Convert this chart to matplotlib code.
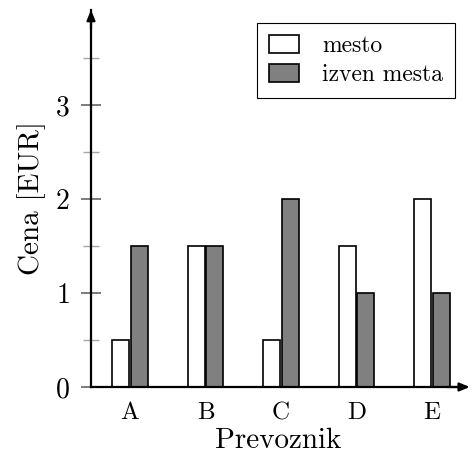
import matplotlib
matplotlib.use("Agg")
import matplotlib.pyplot as plt
from matplotlib.patches import Patch
import numpy as np

# Data
prevozniki = ["A", "B", "C", "D", "E"]
mesto = [0.5, 1.5, 0.5, 1.5, 2.0]
izven_mesta = [1.5, 1.5, 2.0, 1.0, 1.0]

plt.rcParams['font.family'] = ['cmr10', 'DejaVu Serif']
plt.rcParams['axes.formatter.use_mathtext'] = True

fig = plt.figure(figsize=(4.73, 4.58), dpi=100)
# axes placed in pixel coordinates of the reference
left, right, bottom, top = 91, 466, 458 - 387, 458 - 10
ax = fig.add_axes([left / 473, bottom / 458, (right - left) / 473, (top - bottom) / 458])

x = np.arange(len(prevozniki))
w = 0.225
ax.bar(x - 0.125, mesto, w, color='white', edgecolor='black', linewidth=1.2, zorder=3)
ax.bar(x + 0.125, izven_mesta, w, color='#808080', edgecolor='black', linewidth=1.2, zorder=3)

ax.set_xlim(-0.517, (right - 130) / 75.5)
ax.set_ylim(0, (387 - 10) / 94)

for s in ['top', 'right']:
    ax.spines[s].set_visible(False)
for s in ['left', 'bottom']:
    ax.spines[s].set_linewidth(1.6)
    ax.spines[s].set_zorder(4)

# arrow heads
ax.annotate('', xy=(1.01, 0), xytext=(0.95, 0), xycoords='axes fraction',
            arrowprops=dict(arrowstyle='-|>,head_length=0.6,head_width=0.25', lw=1.6, color='black',
                            shrinkA=0, shrinkB=0))
ax.annotate('', xy=(0, 1.0), xytext=(0, 0.95), xycoords='axes fraction',
            arrowprops=dict(arrowstyle='-|>,head_length=0.6,head_width=0.25', lw=1.6, color='black',
                            shrinkA=0, shrinkB=0))

ax.set_xticks(x)
ax.set_xticklabels(prevozniki)
ax.tick_params(axis='x', length=0, pad=11, labelsize=18)
ax.set_yticks([0, 1, 2, 3])
ax.set_yticks([0.5, 1.5, 2.5, 3.5], minor=True)
ax.tick_params(axis='y', which='major', direction='inout', length=15, width=1.2,
               color='0.4', labelsize=20, pad=8)
ax.tick_params(axis='y', which='minor', direction='inout', length=11.5, width=1.0,
               color='0.65')

ax.set_xlabel('Prevoznik', fontsize=21, labelpad=2)
ax.set_ylabel('Cena [EUR]', fontsize=21, labelpad=6)

handles = [Patch(facecolor='white', edgecolor='black', linewidth=1.2),
           Patch(facecolor='#808080', edgecolor='black', linewidth=1.2)]
leg = ax.legend(handles, ['mesto', 'izven mesta'], loc='upper right',
                bbox_to_anchor=((455 - left) / (right - left), (458 - 23 - bottom) / (top - bottom)),
                fontsize=17, fancybox=False, edgecolor='black', framealpha=1,
                borderpad=0.5, handlelength=1.25, handleheight=0.8, handletextpad=1.0,
                labelspacing=0.3, borderaxespad=0)
leg.get_frame().set_linewidth(0.8)

fig.savefig('out.png', dpi=100)
